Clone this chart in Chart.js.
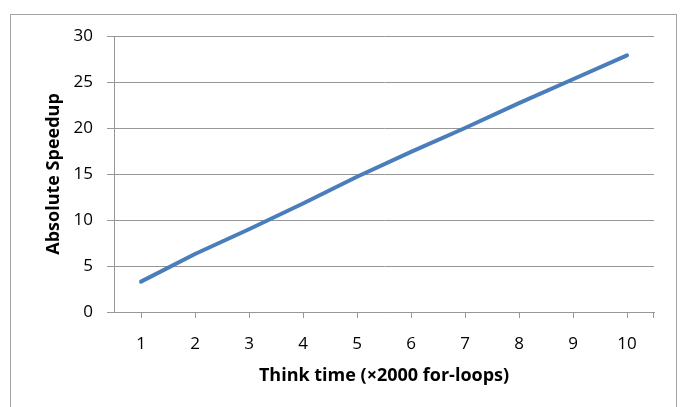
<!DOCTYPE html>
<html>
<head>
<meta charset="utf-8">
<script src="https://cdn.jsdelivr.net/npm/chart.js@4"></script>
<style>
  html, body { margin: 0; padding: 0; background: #fff; }
  #wrap { width: 680px; height: 407px; position: relative; }
</style>
</head>
<body>
<div id="wrap"><canvas id="c" width="680" height="407"></canvas></div>
<script>
// Think time steps (x 2000 for-loops) and measured absolute speedup
const thinkTime = ['1', '2', '3', '4', '5', '6', '7', '8', '9', '10'];
const speedup = [3.3, 6.3, 9.0, 11.8, 14.7, 17.4, 20.0, 22.7, 25.3, 27.9];
const speedupTicks = [0, 5, 10, 15, 20, 25, 30];

const axisGrey = '#979797';
const labelFont = { family: 'Open Sans', size: 17 };
const titleFont = { family: 'Open Sans', size: 18, weight: 'bold' };

// White page with a thin grey frame around the chart
const framePlugin = {
  id: 'frame',
  beforeDraw(chart) {
    const ctx = chart.ctx;
    ctx.save();
    ctx.fillStyle = '#fff';
    ctx.fillRect(0, 0, chart.width, chart.height);
    ctx.strokeStyle = '#a3a3a3';
    ctx.lineWidth = 1;
    ctx.strokeRect(10.5, 14.5, 666, 420);
    ctx.restore();
  },
  // closing tick at the right end of the category axis
  afterDraw(chart) {
    const x = chart.scales.x;
    const ctx = chart.ctx;
    ctx.save();
    ctx.strokeStyle = axisGrey;
    ctx.lineWidth = 1;
    const px = Math.round(x.right) - 0.5;
    ctx.beginPath();
    ctx.moveTo(px, x.top);
    ctx.lineTo(px, x.top + 6);
    ctx.stroke();
    ctx.restore();
  }
};

new Chart(document.getElementById('c'), {
  type: 'line',
  data: {
    labels: thinkTime,
    datasets: [{
      data: speedup,
      borderColor: '#4a7ebb',
      borderWidth: 4,
      borderCapStyle: 'round',
      borderJoinStyle: 'round',
      pointRadius: 0,
      tension: 0,
      fill: false
    }]
  },
  options: {
    responsive: false,
    devicePixelRatio: 1,
    animation: false,
    events: [],
    layout: { padding: { top: 36, right: 26, bottom: 0, left: 0 } },
    plugins: {
      legend: { display: false },
      tooltip: { enabled: false }
    },
    scales: {
      x: {
        offset: true,
        grid: { display: true, drawOnChartArea: false, drawTicks: true, tickLength: 6, color: axisGrey, lineWidth: 1 },
        border: { display: true, color: axisGrey, width: 1 },
        ticks: { color: '#000', font: labelFont, padding: 16, maxRotation: 0, autoSkip: false },
        title: { display: true, text: 'Think time (×2000 for-loops)', color: '#000', font: titleFont, padding: { top: 0, bottom: 20 } },
        afterFit(s) { s.height = 95; }
      },
      y: {
        min: 0,
        max: 30,
        afterBuildTicks(s) { s.ticks = speedupTicks.map(v => ({ value: v })); },
        grid: { color: axisGrey, lineWidth: 1, drawTicks: true, tickLength: 7 },
        border: { display: true, color: axisGrey, width: 1 },
        ticks: { color: '#000', font: labelFont, padding: 14 },
        title: { display: true, text: 'Absolute Speedup', color: '#000', font: titleFont, padding: { top: 43, bottom: 0 } },
        afterFit(s) { s.width = 114; }
      }
    }
  },
  plugins: [framePlugin]
});
</script>
</body>
</html>
